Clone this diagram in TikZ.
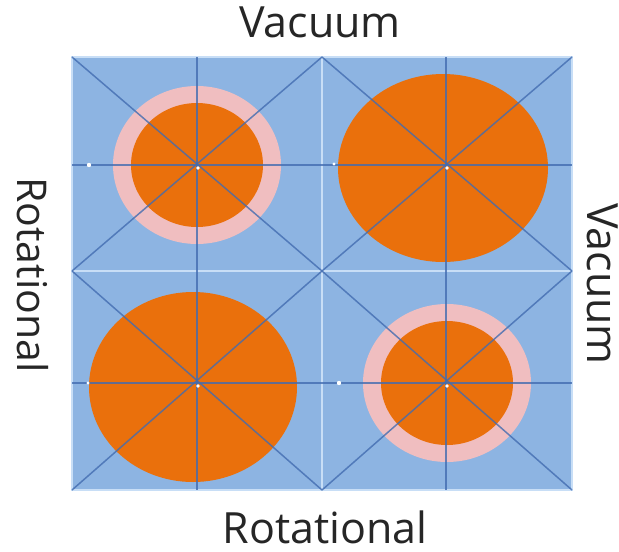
\documentclass[tikz,border=0pt]{standalone}
\usepackage{fontspec}
\setmainfont{Open Sans}
\begin{document}
\begin{tikzpicture}[x=1pt,y=-1pt,
  panel/.style={fill=bgblue, draw=edgeblue, line width=1.8pt},
  axisline/.style={draw=lineblue, line width=1.5pt, opacity=0.8},
  ring/.style={fill=ringpink},
  core/.style={fill=coreorange},
  dotmark/.style={fill=white},
  txtlabel/.style={inner sep=0pt, anchor=base, font=\fontsize{43}{50}\selectfont, text=black!85}
]
\definecolor{bgblue}{RGB}{141,180,226}
\definecolor{edgeblue}{RGB}{200,222,246}
\definecolor{lineblue}{RGB}{66,108,176}
\definecolor{ringpink}{RGB}{240,190,192}
\definecolor{coreorange}{RGB}{234,112,12}
\useasboundingbox[fill=white] (0,0) rectangle (619,552);

% panels
\foreach \xa/\ya/\xb/\yb in {72/57/322/271, 322/57/572/271, 72/271/322/490, 322/271/572/490}{
  \draw[panel] (\xa,\ya) rectangle (\xb,\yb);
}
% top-left: ring + core
\fill[ring] (197,165) ellipse [x radius=84, y radius=79];
\fill[core] (197,165) ellipse [x radius=66, y radius=62];
% top-right: large ellipse
\fill[core] (443,168) ellipse [x radius=105, y radius=94];
% bottom-left: large ellipse
\fill[core] (193,387) ellipse [x radius=104, y radius=95];
% bottom-right: ring + core
\fill[ring] (447,383) ellipse [x radius=84, y radius=79];
\fill[core] (447,383) ellipse [x radius=66, y radius=62];

% guide lines
\foreach \xa/\ya/\xb/\yb/\cx/\cy in {72/57/322/271/197/165, 322/57/572/271/446/165, 72/271/322/490/197/383, 322/271/572/490/446/383}{
  \draw[axisline] (\xa,\ya) -- (\xb,\yb);
  \draw[axisline] (\xb,\ya) -- (\xa,\yb);
  \draw[axisline] (\cx,\ya) -- (\cx,\yb);
  \draw[axisline] (\xa,\cy) -- (\xb,\cy);
  \fill[dotmark] (\cx+1,\cy+3) circle [radius=1.8];
}
\fill[dotmark] (89,165) circle [radius=2.2];
\fill[dotmark] (334,164) circle [radius=1.6];
\fill[dotmark] (88,383) circle [radius=1.6];
\fill[dotmark] (339,383) circle [radius=2.2];

% labels
\node[txtlabel] (top) at (320,37) {Vacuum};
\node[txtlabel] (bottom) at (325,543) {Rotational};
\node[txtlabel, rotate=-90, font=\fontsize{41}{48}\selectfont] (left) at (17,275) {Rotational};
\node[txtlabel, rotate=-90] (right) at (587,284) {Vacuum};
\end{tikzpicture}
\end{document}
